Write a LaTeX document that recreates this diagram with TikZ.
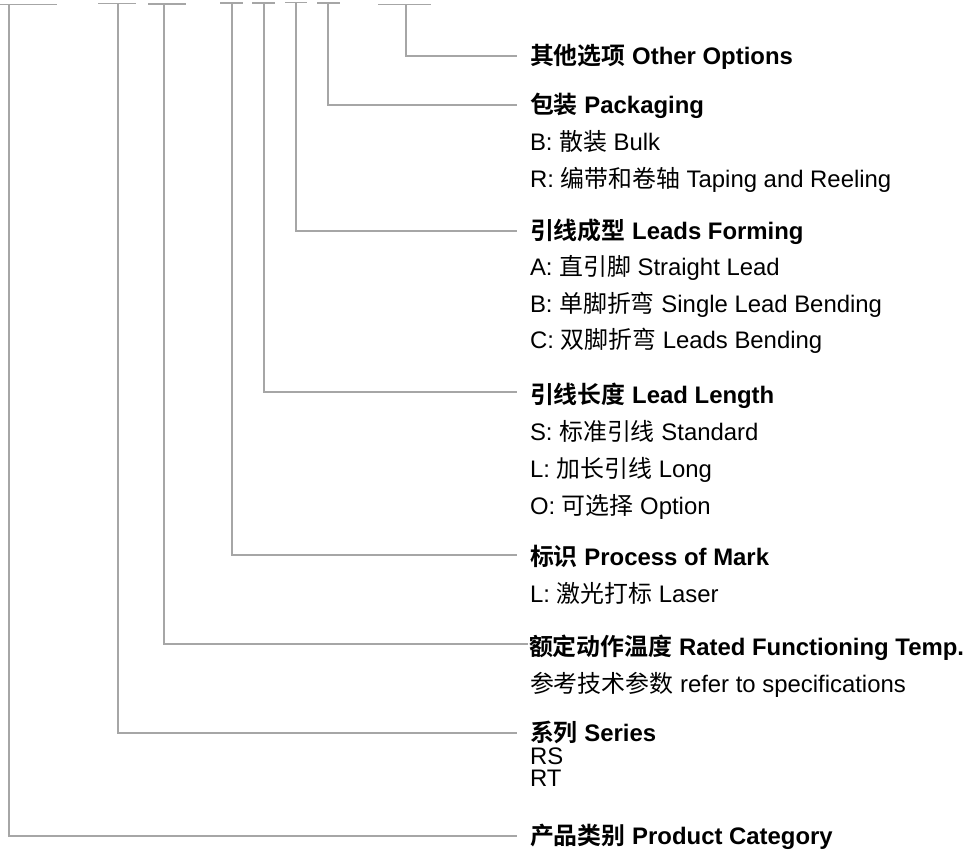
\documentclass[tikz,border=0pt]{standalone}
\usepackage{fontspec}
\setmainfont{Liberation Sans}
\newfontfamily\cjkfont{Noto Sans CJK SC}[BoldFont={Noto Sans CJK SC Bold}]
\newcommand{\zh}[1]{{\cjkfont #1}}
\definecolor{linegray}{HTML}{A6A6A6}
\begin{document}
\begin{tikzpicture}[x=1pt,y=-1pt,
  txt/.style={anchor=base west, inner sep=0pt, outer sep=0pt, font=\fontsize{23.9pt}{28pt}\selectfont},
  ttl/.style={txt, font=\fontsize{23.9pt}{28pt}\selectfont\bfseries},
  leader/.style={draw=linegray, line width=1.4pt}]
\useasboundingbox (0,0) rectangle (967,850);
% top bars
\foreach \n/\xa/\xb/\yy in {1/0/57/4.3, 2/98/136/3.5, 3/148/186/4, 4/220/243/3, 5/252/275/3, 6/285/307/2.5, 7/317/340/3, 8/378/431/4.5}{
  \coordinate (bl\n) at (\xa,\yy);
  \coordinate (br\n) at (\xb,\yy);
  \draw[leader] (bl\n) -- (br\n);
}
\coordinate (v1) at (9,4.3);
\coordinate (v2) at (118,3.5);
\coordinate (v3) at (164,4);
\coordinate (v4) at (232,3);
\coordinate (v5) at (264,3);
\coordinate (v6) at (296,2.5);
\coordinate (v7) at (328,3);
\coordinate (v8) at (406,4.5);
% line ends
\coordinate (e8) at (517,56);
\coordinate (e7) at (517,105);
\coordinate (e6) at (517,231);
\coordinate (e5) at (517,392);
\coordinate (e4) at (517,555);
\coordinate (e3) at (528,644);
\coordinate (e2) at (517,733);
\coordinate (e1) at (517,836);
% texts
\node[ttl] (t8) at (530,64.5) {\zh{其他选项} Other Options};
\node[ttl] (t7) at (530,113.5) {\zh{包装} Packaging};
\node[txt] (t7a) at (530,151) {B: \zh{散装} Bulk};
\node[txt] (t7b) at (530,188) {R: \zh{编带和卷轴} Taping and Reeling};
\node[ttl] (t6) at (530,240) {\zh{引线成型} Leads Forming};
\node[txt] (t6a) at (530,276) {A: \zh{直引脚} Straight Lead};
\node[txt] (t6b) at (530,313) {B: \zh{单脚折弯} Single Lead Bending};
\node[txt] (t6c) at (530,349) {C: \zh{双脚折弯} Leads Bending};
\node[ttl] (t5) at (530,403) {\zh{引线长度} Lead Length};
\node[txt] (t5a) at (530,440) {S: \zh{标准引线} Standard};
\node[txt] (t5b) at (530,477) {L: \zh{加长引线} Long};
\node[txt] (t5c) at (530,514) {O: \zh{可选择} Option};
\node[ttl] (t4) at (530,565) {\zh{标识} Process of Mark};
\node[txt] (t4a) at (530,602) {L: \zh{激光打标} Laser};
\node[ttl] (t3) at (529,655) {\zh{额定动作温度} Rated Functioning Temp.};
\node[txt] (t3a) at (530,692) {\zh{参考技术参数} refer to specifications};
\node[ttl] (t2) at (530,741) {\zh{系列} Series};
\node[txt] (t2a) at (530,764) {RS};
\node[txt] (t2b) at (530,786) {RT};
\node[ttl] (t1) at (530,844) {\zh{产品类别} Product Category};
% leaders
\foreach \n in {1,...,8}{
  \draw[leader] (v\n) |- (e\n);
}
\end{tikzpicture}
\end{document}
